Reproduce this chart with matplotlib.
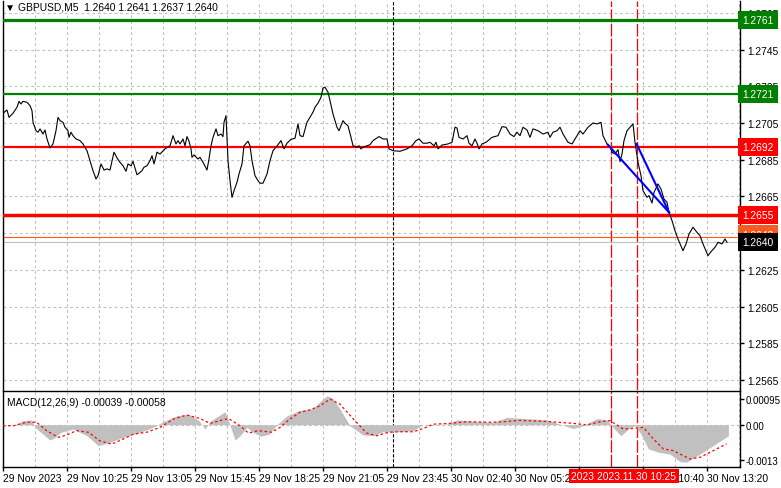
import matplotlib
matplotlib.use('Agg')
import matplotlib.pyplot as plt

plt.rcParams['font.family'] = ['Liberation Sans', 'DejaVu Sans']

# ---- data (M5 bars counted from the left edge) ----
price_bar = [0, 2, 3, 5, 7, 8, 9, 10, 12, 13.5, 14.5, 15, 16.5, 17.5, 18.5, 20, 21, 22, 23.5, 25,
             26.5, 27.5, 28.5, 30, 31, 32.5, 33, 34, 35, 36.5, 38.5, 40, 42, 43.5, 45, 46.5, 47.5, 49, 50.5, 52,
             53.5, 55.5, 57, 58.5, 60, 61.5, 62.5, 64, 65, 67, 69.5, 70.5, 72, 73.5, 74.5, 75.5, 77, 78.5, 81, 83.5,
             85, 86.5, 87.5, 88.5, 90, 91, 92, 93, 94, 94.5, 95.5, 97.5, 98.5, 100, 102, 103, 104, 105, 106.5, 107.5,
             109, 110, 110.5, 111.5, 112, 112.5, 113.5, 114.5, 115.5, 117, 118, 119.5, 120.5, 122.5, 123.5, 124.5, 126, 127.5, 128.5, 130,
             132, 133.5, 135, 137.5, 139, 140.5, 142, 144, 146, 147.5, 148.5, 150, 152, 153.5, 155, 156, 157.5, 159, 160, 161,
             162.5, 163.5, 165, 167, 168, 169, 170, 171, 172.5, 174, 175, 177, 178, 179, 180, 182, 183.5, 185, 188, 190,
             192, 193, 195, 198.5, 202, 204.5, 206.5, 208, 210, 212, 213.5, 215.5, 216.5, 217.5, 219.5, 222.5, 224.5, 226, 227, 228,
             230, 232, 233, 234.5, 236, 237, 238, 239.5, 241.5, 244.5, 247.5, 249.5, 251.5, 253.5, 255.5, 257, 258.5, 260, 262, 263.5,
             265, 267.5, 270, 272.5, 273.5, 275, 277, 278.5, 280, 282.5, 284.5, 286, 288.5, 290, 292.5, 295, 297, 299, 300, 302,
             303.5, 304.5, 306, 307.5, 308.5, 309.5, 310.5, 312, 313.5, 315, 316, 317.5, 319, 320, 322, 323, 324.5, 325.5, 327.5, 329,
             330.5, 332, 333, 334.5, 336, 337.5, 340, 341.5, 343, 345, 347, 348.5, 350, 352.5, 354, 356, 357.5, 359.5, 361, 362]
price_val = [1.27103, 1.27121, 1.27081, 1.27103, 1.27136, 1.27168, 1.27154, 1.27168, 1.27163, 1.27145, 1.27117, 1.27054, 1.27008, 1.27000, 1.27018, 1.26990, 1.27012, 1.26963, 1.26914, 1.26936,
             1.27008, 1.27081, 1.27063, 1.27054, 1.27027, 1.27008, 1.26972, 1.27000, 1.26981, 1.26963, 1.26954, 1.26936, 1.26899, 1.26845, 1.26790, 1.26745, 1.26763, 1.26827, 1.26794, 1.26800,
             1.26794, 1.26891, 1.26860, 1.26836, 1.26817, 1.26787, 1.26827, 1.26817, 1.26841, 1.26768, 1.26790, 1.26809, 1.26817, 1.26845, 1.26872, 1.26827, 1.26891, 1.26881, 1.26909, 1.26926,
             1.26981, 1.26936, 1.26954, 1.26936, 1.26963, 1.26926, 1.26976, 1.26951, 1.26909, 1.26863, 1.26876, 1.26854, 1.26863, 1.26836, 1.26794, 1.26854, 1.26926, 1.26972, 1.27018, 1.26981,
             1.26990, 1.26976, 1.27054, 1.27090, 1.26972, 1.26845, 1.26736, 1.26645, 1.26681, 1.26727, 1.26772, 1.26827, 1.26926, 1.26951, 1.26926, 1.26845, 1.26763, 1.26736, 1.26722, 1.26722,
             1.26772, 1.26845, 1.26899, 1.26932, 1.26954, 1.26909, 1.26940, 1.26961, 1.26967, 1.27045, 1.26981, 1.26976, 1.27054, 1.27081, 1.27109, 1.27136, 1.27158, 1.27190, 1.27241, 1.27245,
             1.27218, 1.27172, 1.27099, 1.27027, 1.27008, 1.27035, 1.27063, 1.27049, 1.27035, 1.26972, 1.26926, 1.26918, 1.26926, 1.26909, 1.26918, 1.26926, 1.26932, 1.26954, 1.26976, 1.26963,
             1.26963, 1.26909, 1.26899, 1.26896, 1.26909, 1.26926, 1.26954, 1.26963, 1.26940, 1.26940, 1.26945, 1.26926, 1.26945, 1.26909, 1.26930, 1.26936, 1.26945, 1.27027, 1.27023, 1.26972,
             1.26963, 1.26981, 1.26940, 1.26926, 1.26963, 1.26940, 1.26909, 1.26936, 1.26945, 1.26972, 1.26981, 1.27030, 1.27027, 1.26990, 1.26976, 1.27000, 1.26981, 1.27027, 1.27012, 1.26972,
             1.27018, 1.27008, 1.26990, 1.27000, 1.26972, 1.27000, 1.27008, 1.27027, 1.26990, 1.26945, 1.26936, 1.26963, 1.27008, 1.26990, 1.27027, 1.27050, 1.27045, 1.27054, 1.26981, 1.26936,
             1.26923, 1.26891, 1.26881, 1.26905, 1.26839, 1.26881, 1.26954, 1.27008, 1.27027, 1.27045, 1.26945, 1.26836, 1.26763, 1.26681, 1.26645, 1.26654, 1.26614, 1.26672, 1.26718, 1.26690,
             1.26636, 1.26618, 1.26563, 1.26518, 1.26463, 1.26418, 1.26354, 1.26391, 1.26445, 1.26482, 1.26454, 1.26436, 1.26391, 1.26327, 1.26349, 1.26373, 1.26400, 1.26391, 1.26418, 1.26400]

hist_bar = [0, 6, 10, 14.3, 16, 20, 23.5, 26, 29, 35, 42, 47.7, 53.5, 60, 68.5, 75, 80, 87, 93, 98,
            101, 104, 111, 113, 116, 118.5, 122, 125, 129, 133, 137, 142, 148, 155, 159, 162, 165, 168.5, 173.5, 180,
            185, 190, 198.5, 205, 210, 222, 227, 238.5, 245, 252, 272, 278.5, 285, 290, 297, 302, 305, 309, 312.7, 316,
            319, 322.7, 327.7, 333.5, 338.5, 341.8, 348.5, 355, 362.7]
hist_val = [0, 0, 0.00015, 0.00018, -0.0001, -0.00035, -0.00057, -0.00047, -0.00028, -0.00016, -0.00041, -0.00078, -0.00065, -0.00047, -0.00028, -0.0001, 0.00011, 0.00033, 0.00039, 0.00015,
            -0.00016, 0.00015, 0.00048, 0.00009, -0.00057, -0.00041, -0.0001, -0.00028, -0.00043, -0.00035, 0, 0.00033, 0.00052, 0.0006, 0.00089, 0.00107, 0.00097, 0.00058, -0.00004, -0.00038,
            -0.00041, -0.00026, -0.00026, -0.00022, 0, 0.00002, 0.00018, 0.00011, 0.00009, 0.00027, 0.00018, 0.00002, -0.00014, -0.00004, 0.00023, 0.00018, -0.0001, -0.00041, -0.00016, -0.00004,
            -0.00035, -0.0009, -0.00102, -0.00109, -0.00137, -0.00139, -0.00109, -0.00078, -0.00041]

signal_bar = [0, 5.2, 11.8, 16.8, 21.8, 27.7, 31.8, 36.8, 42.7, 48.5, 54.3, 60.2, 65.2, 71.8, 78.5, 85.2, 91.8, 98.5, 103.5, 108.5,
              112.7, 118.5, 122.7, 127.7, 134.3, 138.5, 143.5, 148.5, 153.5, 158.5, 163.5, 168.5, 175.2, 181.8, 186.8, 192.7, 198.5, 205.2, 210.2, 215.2,
              223.5, 231.8, 243.5, 250.2, 258.5, 271.8, 285.2, 291.8, 298.5, 303.5, 310.2, 315.2, 320.2, 325.2, 330.2, 335.2, 338.5, 343.5, 348.5, 355.2, 361.8]
signal_val = [-0.00004, -0.00004, 0.00009, 0.00009, -0.00022, -0.00047, -0.00038, -0.00022, -0.00028, -0.0006, -0.00072, -0.00053, -0.00035, -0.00028, -0.0001, 0.00021, 0.00036, 0.00023, 0.00005, 0.00015,
              0.00023, -0.00004, -0.00031, -0.00022, -0.00028, -0.0001, 0.00021, 0.00046, 0.00055, 0.0007, 0.00095, 0.00076, 0.00021, -0.00031, -0.00041, -0.00028, -0.00026, -0.00026, -0.00014, 0.00002,
              0.00005, 0.00011, 0.00009, 0.00011, 0.00016, 0.00012, 0.00005, -0.00001, 0.00011, 0.00015, -0.00016, -0.00014, -0.0001, -0.00053, -0.0009, -0.00096, -0.00109, -0.00127, -0.00121, -0.00096, -0.00071]

level_prices = [1.2761, 1.2721, 1.2692, 1.2655]
level_colors = ['#008000', '#008000', '#ff0000', '#ff0000']
level_widths = [2.3, 1.6, 1.6, 2.5]
bid_price = 1.2640
ask_price = 1.2643

trend_a = ([302.4, 333], [1.26932, 1.26563])
trend_b = ([316.8, 333], [1.26936, 1.26563])
marker_bars = [304, 317]
marker_labels = ['2023.11.30 09:20', '2023.11.30 10:25']
day_sep_bar = 195

price_ticks = [1.2765, 1.2745, 1.2725, 1.2705, 1.2685, 1.2665, 1.2645, 1.2625, 1.2605, 1.2585, 1.2565]
macd_ticks = [0.00095, 0.0, -0.0013]
macd_tick_labels = ['0.00095', '0.00', '-0.0013']
time_ticks = [0, 32, 64, 96, 128, 160, 192, 224, 256, 288, 320, 352]
time_labels = ['29 Nov 2023', '29 Nov 10:25', '29 Nov 13:05', '29 Nov 15:45', '29 Nov 18:25', '29 Nov 21:05',
               '29 Nov 23:45', '30 Nov 02:40', '30 Nov 05:20', '30 Nov 08:00', '30 Nov 10:40', '30 Nov 13:20']

FS = 7.4
W, H = 781, 489
fig = plt.figure(figsize=(W / 100, H / 100), dpi=100)
ax = fig.add_axes([3 / W, 1 - 391 / H, 737 / W, 389 / H])
mx = fig.add_axes([3 / W, 1 - 467.5 / H, 737 / W, 75.5 / H])

grid_kw = dict(color='#c0c0c0', lw=0.8, ls=(0, (2.5, 2.5)), zorder=0)
for a in (ax, mx):
    a.set_xlim(0, 368.5)
    for b in range(0, 369, 16):
        a.axvline(b, **grid_kw)
    a.axvline(day_sep_bar, color='black', lw=0.8, ls=(0, (3, 1.5)), zorder=1)
    for b in marker_bars:
        a.axvline(b, color='#ff0000', lw=0.9, ls=(0, (10, 1.8)), zorder=1)
    for s in a.spines.values():
        s.set_color('black')
        s.set_linewidth(1)

# main price panel
ax.set_ylim(1.25595, 1.27715)
for p in price_ticks:
    ax.axhline(p, **grid_kw)
ax.spines['top'].set_visible(False)
ax.spines['bottom'].set_visible(False)
ax.yaxis.tick_right()
ax.set_yticks(price_ticks)
ax.set_yticklabels(['%.4f' % p for p in price_ticks])
ax.tick_params(axis='y', direction='out', length=3, width=1, pad=2, labelsize=FS)
ax.set_xticks([])

for p, c, w in zip(level_prices, level_colors, level_widths):
    ax.axhline(p, color=c, lw=w, zorder=3)
ax.axhline(bid_price, color='#c0c0c0', lw=0.8, zorder=2)
ax.axhline(ask_price, color='#ff5a1e', lw=0.8, zorder=2)

ax.plot(price_bar, price_val, color='black', lw=0.8, zorder=4)
ax.plot(*trend_a, color='#0000ff', lw=1.5, zorder=5)
ax.plot(*trend_b, color='#0000ff', lw=1.5, zorder=5)

ytr = ax.get_yaxis_transform()
box_labels = [(ask_price, '#ff5a1e', 'white'), (bid_price, 'black', 'white')]
for p, c in zip(level_prices, level_colors):
    box_labels.append((p, c, 'white'))
for p, fc, tc in box_labels:
    dy = 0.00012 if p == ask_price else 0
    ax.text(1.003, p + dy, '%.4f' % p, transform=ytr, ha='left', va='center', fontsize=FS, color=tc,
            clip_on=False, zorder=10,
            bbox=dict(boxstyle='square,pad=0.4', fc=fc, ec='none'))

ax.text(0.003, 0.985, '\u25BC GBPUSD,M5  1.2640 1.2641 1.2637 1.2640', transform=ax.transAxes,
        ha='left', va='center', fontsize=FS, color='black', zorder=10)

# MACD panel
mx.set_ylim(-0.00155, 0.00125)
mx.axhline(0, **grid_kw)
mx.fill_between(hist_bar, hist_val, 0, color='#c0c0c0', lw=0, zorder=2)
mx.plot(signal_bar, signal_val, color='#ff0000', lw=0.9, ls=(0, (2, 2)), zorder=3)
mx.yaxis.tick_right()
mx.set_yticks(macd_ticks)
mx.set_yticklabels(macd_tick_labels)
mx.tick_params(axis='y', direction='out', length=3, width=1, pad=1, labelsize=7)
mx.set_xticks(time_ticks)
mx.set_xticklabels(time_labels, ha='left')
mx.tick_params(axis='x', direction='out', length=3, width=1, pad=2, labelsize=FS)
mx.text(0.006, 0.86, 'MACD(12,26,9) -0.00039 -0.00058', transform=mx.transAxes,
        ha='left', va='center', fontsize=FS, color='black')

xtr = mx.get_xaxis_transform()
for b, lab in zip(marker_bars, marker_labels):
    mx.text(b, -0.12, lab, transform=xtr, ha='center', va='center', fontsize=FS, color='white',
            clip_on=False, zorder=10,
            bbox=dict(boxstyle='square,pad=0.2', fc='#ff0000', ec='none'))

fig.savefig('out.png', dpi=100)
